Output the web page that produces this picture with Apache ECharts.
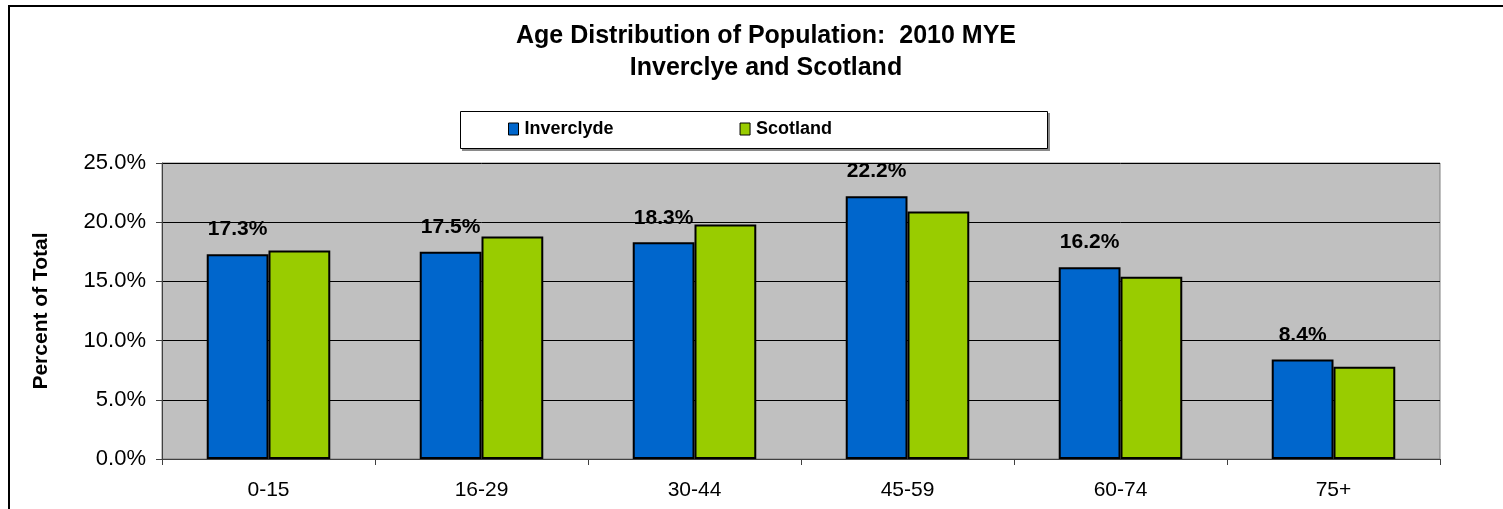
<!DOCTYPE html>
<html>
<head>
<meta charset="utf-8">
<script src="https://cdn.jsdelivr.net/npm/echarts@6/dist/echarts.min.js"></script>
<style>
  html, body { margin: 0; padding: 0; background: #fff; }
  #chart { width: 1503px; height: 509px; }
</style>
</head>
<body>
<div id="chart"></div>
<script>
// Age bands and population shares (percent of total), 2010 mid-year estimates
const ageBands = ['0-15', '16-29', '30-44', '45-59', '60-74', '75+'];
const inverclyde = [17.3, 17.5, 18.3, 22.2, 16.2, 8.4];
const scotland = [17.6, 18.8, 19.8, 20.9, 15.4, 7.8];
const seriesNames = ['Inverclyde', 'Scotland'];
const titleLines = ['Age Distribution of Population:  2010 MYE', 'Inverclye and Scotland'];
const yAxisName = 'Percent of Total';

const FONT = '"Liberation Sans", Arial, sans-serif';
const chart = echarts.init(document.getElementById('chart'), null, { renderer: 'canvas' });

chart.setOption({
  animation: false,
  backgroundColor: '#ffffff',
  textStyle: { fontFamily: FONT },
  title: {
    text: titleLines.join('\n'),
    left: 761,
    top: 15,
    textAlign: 'center',
    textStyle: { fontFamily: FONT, fontSize: 25, fontWeight: 'bold', color: '#000', lineHeight: 32 }
  },
  graphic: [
    // outer chart frame
    { type: 'rect', shape: { x: 9, y: 6, width: 1700, height: 700 },
      style: { fill: 'none', stroke: '#000', lineWidth: 2 }, silent: true, z: 0 },
    // legend box with a soft drop shadow
    { type: 'rect', shape: { x: 462, y: 113, width: 588, height: 38 },
      style: { fill: '#8a8a8a' }, silent: true, z: 0 },
    { type: 'rect', shape: { x: 460.5, y: 111.5, width: 587, height: 37 },
      style: { fill: '#fff', stroke: '#000', lineWidth: 1 }, silent: true, z: 1 }
  ],
  legend: {
    data: seriesNames,
    left: 508,
    top: 120,
    padding: 0,
    itemGap: 126,
    itemWidth: 10,
    itemHeight: 12,
    icon: 'rect',
    itemStyle: { borderColor: '#000', borderWidth: 1 },
    textStyle: { fontFamily: FONT, fontSize: 18, fontWeight: 'bold', color: '#000', padding: [0, 0, 0, 1] },
    z: 5
  },
  grid: {
    left: 162, right: 63, top: 163, bottom: 50,
    show: true,
    backgroundColor: '#c0c0c0',
    borderColor: '#808080',
    borderWidth: 1
  },
  xAxis: {
    type: 'category',
    data: ageBands,
    boundaryGap: true,
    axisLine: { show: true, lineStyle: { color: '#404040', width: 1 } },
    axisTick: { show: true, length: 6, lineStyle: { color: '#404040' } },
    axisLabel: { fontFamily: FONT, fontSize: 21, color: '#000', margin: 21 },
    splitLine: { show: false }
  },
  yAxis: {
    type: 'value',
    min: 0,
    max: 25,
    interval: 5,
    name: yAxisName,
    nameLocation: 'middle',
    nameRotate: 90,
    nameGap: 110,
    nameTextStyle: { fontFamily: FONT, fontSize: 21, fontWeight: 'bold', color: '#000' },
    axisLine: { show: true, lineStyle: { color: '#404040', width: 1 } },
    axisTick: { show: true, length: 6, lineStyle: { color: '#404040' } },
    axisLabel: {
      fontFamily: FONT, fontSize: 22, color: '#000', margin: 16,
      formatter: v => v.toFixed(1) + '%'
    },
    splitLine: { show: true, lineStyle: { color: '#000', width: 1 } }
  },
  series: [
    {
      name: seriesNames[0],
      type: 'bar',
      data: inverclyde,
      barGap: '0%',
      barCategoryGap: '42%',
      itemStyle: { color: '#0066cc', borderColor: '#000', borderWidth: 2 },
      label: {
        show: true,
        position: 'top',
        distance: 14,
        fontFamily: FONT,
        fontSize: 21,
        fontWeight: 'bold',
        color: '#000',
        formatter: p => p.value.toFixed(1) + '%'
      },
      z: 3
    },
    {
      name: seriesNames[1],
      type: 'bar',
      data: scotland,
      itemStyle: { color: '#99cc00', borderColor: '#000', borderWidth: 2 },
      z: 3
    }
  ]
});
</script>
</body>
</html>
